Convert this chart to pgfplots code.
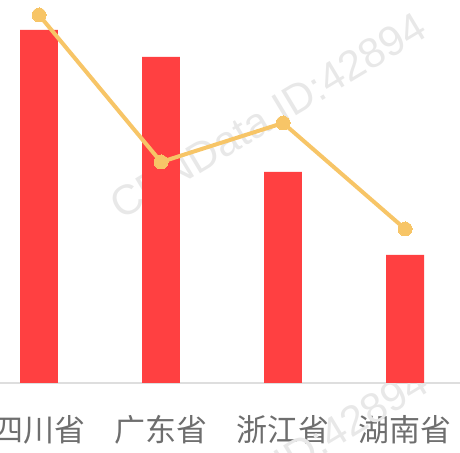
\documentclass[border=0pt]{standalone}
\usepackage{pgfplots}
\pgfplotsset{compat=1.18}
\usepackage{fontspec}
\setmainfont{Liberation Sans}
\newfontfamily\cjk{Noto Sans CJK SC}
\definecolor{barred}{HTML}{FF4041}
\definecolor{lineyel}{HTML}{F7C567}
\definecolor{lab}{HTML}{6E6E6E}
\definecolor{wm}{HTML}{E8E8E8}
\begin{document}
\begin{tikzpicture}
\begin{axis}[
  scale only axis, width=460pt, height=383pt,
  xmin=-0.32, xmax=3.45, ymin=0, ymax=383,
  axis x line*=bottom, hide y axis,
  x axis line style={-, draw=black!13, line width=1.3pt},
  xtick={0,1,2,3}, xticklabels={四川省,广东省,浙江省,湖南省},
  xticklabel style={font=\cjk\fontsize{31}{31}\selectfont, text=lab, anchor=base, yshift=-59pt},
  major tick length=0pt, clip=false,
]
\node[rotate=31, text=wm, font=\fontsize{42}{42}\selectfont] at (axis cs:1.88,267) {CBNData ID:42894};
\node[rotate=31, text=wm, font=\fontsize{42}{42}\selectfont] at (axis cs:1.89,-88) {CBNData ID:42894};
\addplot[ybar, bar width=0.31, bar shift=0pt, fill=barred, draw=none] coordinates {(0,353) (1,326) (2,211) (3,128)};
\addplot[lineyel, line width=4pt, mark=*, mark size=7pt, mark options={fill=lineyel, draw=lineyel, line width=0pt}] coordinates {(0,368) (1,221) (2,260) (3,154)};
\end{axis}
\pgfresetboundingbox
\path (current axis.south west) ++(0,-70pt) rectangle (current axis.north east);
\end{tikzpicture}
\end{document}
